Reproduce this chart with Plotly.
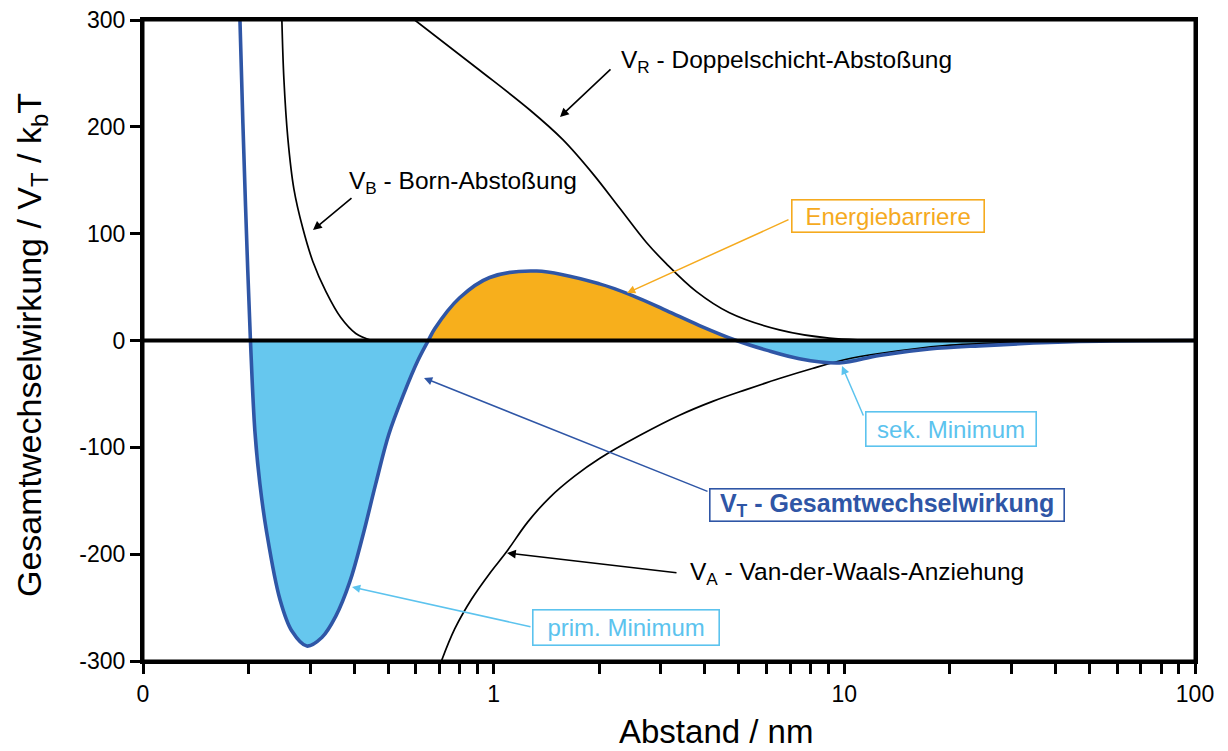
import plotly.graph_objects as go

# ---------------- data ----------------
# V_T total interaction (distance in nm, energy in kT)
vt_x = [0.189, 0.1927, 0.1972, 0.2025, 0.2085, 0.2154, 0.2251, 0.2456, 0.2658, 0.2932,
        0.3236, 0.3547, 0.3887, 0.4233, 0.4611, 0.5022, 0.5542, 0.6075, 0.6512, 0.6790,
        0.8000, 0.9741, 1.326, 2.004, 2.489, 3.111, 3.863, 4.923, 5.995, 7.442,
        9.678, 12.58, 17.47, 24.24, 46.7, 100]
vt_y = [300, 203, 102, 0, -85, -134, -179, -242, -272, -286,
        -278, -258, -226, -183, -134, -88, -50, -19, 0, 11,
        40, 59, 65, 53, 42, 28, 14, 0, -9, -17,
        -21, -14, -8, -5, -1, 0]

# V_B Born repulsion
vb_x = [0.2489, 0.2522, 0.2589, 0.2693, 0.2856, 0.3050, 0.3322, 0.3665, 0.4044, 0.4493]
vb_y = [300, 245, 189, 142, 105, 74, 46, 21.5, 6.6, 0]

# V_R double-layer repulsion
vr_x = [0.5955, 0.912, 1.266, 1.575, 1.919, 2.286, 2.723, 3.105, 3.780, 4.703, 6.528, 9.06, 14.35]
vr_y = [300, 253, 216, 188, 156, 124, 92, 72, 46, 26, 10, 2.3, 0]

# V_A van der Waals attraction
va_x = [0.7096, 0.7743, 0.8655, 0.9741, 1.087, 1.250, 1.444, 1.701, 2.004, 2.606,
        3.388, 4.212, 5.248, 6.528, 8.106, 10.07, 12.58, 19.40, 30.1, 53.3, 100]
va_y = [-300, -270, -242, -218, -198, -170, -147, -127, -110.5, -89,
        -70, -57, -46, -35.6, -26.2, -17.8, -12.2, -4.7, -1.9, -0.5, 0]

x_major_vals = [0.1, 1, 10, 100]
x_major_text = ["0", "1", "10", "100"]
y_tick_vals = [-300, -200, -100, 0, 100, 200, 300]

# ---------------- styles ----------------
FONT = "Liberation Sans, Arial, Helvetica, sans-serif"
BLUE = "#2F56A6"
LIGHT = "#66C7EE"
ORANGE = "#F7AF1C"
ANN_LIGHT = "#5CC3EE"
ANN_ORANGE = "#F5AA1E"

fig = go.Figure()

# fills between V_T and zero, split at the zero crossings
zero_idx = [i for i, v in enumerate(vt_y) if v == 0]
for a, b in zip(zero_idx[:-1], zero_idx[1:]):
    seg_x = vt_x[a:b + 1]
    seg_y = vt_y[a:b + 1]
    col = ORANGE if sum(seg_y) > 0 else LIGHT
    fig.add_trace(go.Scatter(x=seg_x, y=seg_y, mode="lines", fill="tozeroy",
                             fillcolor=col, line=dict(width=0, shape="spline"),
                             hoverinfo="skip", showlegend=False))

for xs, ys in [(vb_x, vb_y), (vr_x, vr_y), (va_x, va_y)]:
    fig.add_trace(go.Scatter(x=xs, y=ys, mode="lines",
                             line=dict(color="black", width=1.7, shape="spline"),
                             showlegend=False))

fig.add_trace(go.Scatter(x=vt_x, y=vt_y, mode="lines",
                         line=dict(color=BLUE, width=3.6, shape="spline"),
                         showlegend=False))

# ---------------- axes ----------------
minor_vals = [m * 10 ** e for e in (-1, 0, 1) for m in range(2, 10)]
tickvals = x_major_vals + minor_vals
ticktext = x_major_text + [""] * len(minor_vals)

OFF = 8                      # page body margin
L, R, T, B = 143, 1195, 20, 661   # plot area in page pixels
W, H = 1228 - OFF, 751 - OFF


def paper(px, py):
    return (px - L) / (R - L), (B - py) / (B - T)


axis_common = dict(showline=True, linewidth=3, linecolor="black", mirror=True,
                   ticks="outside", ticklen=10, tickwidth=3, tickcolor="black",
                   showgrid=False, zeroline=False, automargin=False,
                   ticklabeloverflow="allow",
                   tickfont=dict(family=FONT, size=23, color="black"))

fig.update_xaxes(type="log", range=[-1, 2], tickmode="array",
                 tickvals=tickvals, ticktext=ticktext, **axis_common)
fig.update_yaxes(range=[-300, 300], tickmode="array", tickvals=y_tick_vals,
                 ticktext=[str(v) for v in y_tick_vals], **axis_common)

# zero line and frame on top of the fills
fig.add_shape(type="line", xref="paper", x0=0, x1=1, yref="y", y0=0, y1=0,
              line=dict(color="black", width=4), layer="above")
fig.add_shape(type="rect", xref="paper", x0=0, x1=1, yref="paper", y0=0, y1=1,
              line=dict(color="black", width=3), layer="above")

# ---------------- annotations ----------------
anns = []


def text_ann(px, py, text, color="black", size=24, box=None, bold=False, angle=0):
    x, y = paper(px, py)
    d = dict(x=x, y=y, xref="paper", yref="paper", text=("<b>%s</b>" % text) if bold else text,
             showarrow=False, xanchor="center", yanchor="middle", textangle=angle,
             font=dict(family=FONT, size=size, color=color))
    if box is not None:
        bw, bh = box
        d.update(bordercolor=color, borderwidth=1.6, borderpad=0, bgcolor="white",
                 width=bw, height=bh)
    anns.append(d)


def arrow_ann(tail, tip, color="black", width=1.6):
    x, y = paper(*tip)
    anns.append(dict(x=x, y=y, xref="paper", yref="paper", text="", showarrow=True,
                     ax=tail[0] - tip[0], ay=tail[1] - tip[1], axref="pixel", ayref="pixel",
                     arrowhead=2, arrowsize=1.1, arrowwidth=width, arrowcolor=color,
                     standoff=0, startstandoff=0))


text_ann(786, 62, "V<sub>R</sub> - Doppelschicht-Abstoßung", size=24.5)
arrow_ann((612, 68), (560, 117))

text_ann(463, 182, "V<sub>B</sub> - Born-Abstoßung", size=24.5)
arrow_ann((353, 197), (313, 230))

text_ann(887.5, 216, "Energiebarriere", color=ANN_ORANGE, box=(191, 31))
arrow_ann((790, 219), (627, 293), color=ANN_ORANGE, width=1.5)

text_ann(951, 429, "sek. Minimum", color=ANN_LIGHT, box=(169, 33))
arrow_ann((864, 417), (842, 366), color=ANN_LIGHT, width=1.5)

text_ann(887, 505, "V<sub>T</sub> - Gesamtwechselwirkung", color=BLUE, size=25, box=(353, 31), bold=True)
arrow_ann((709, 492), (424, 378), color=BLUE, width=1.5)

text_ann(857, 573, "V<sub>A</sub> - Van-der-Waals-Anziehung", size=24.5)
arrow_ann((678, 573), (507, 553))

text_ann(626, 627.5, "prim. Minimum", color=ANN_LIGHT, box=(185, 34))
arrow_ann((532, 627), (352, 587), color=ANN_LIGHT, width=1.5)

# axis titles
text_ann(716, 731, "Abstand / nm", size=33)
text_ann(31, 345, "Gesamtwechselwirkung / V<sub>T</sub> / k<sub>b</sub>T", size=34, angle=-90)

fig.update_layout(width=W, height=H,
                  margin=dict(l=L - OFF, r=W - (R - OFF), t=T - OFF, b=H - (B - OFF),
                              autoexpand=False),
                  paper_bgcolor="white", plot_bgcolor="white",
                  annotations=anns, showlegend=False,
                  font=dict(family=FONT, color="black"))

fig.write_html("out.html")
